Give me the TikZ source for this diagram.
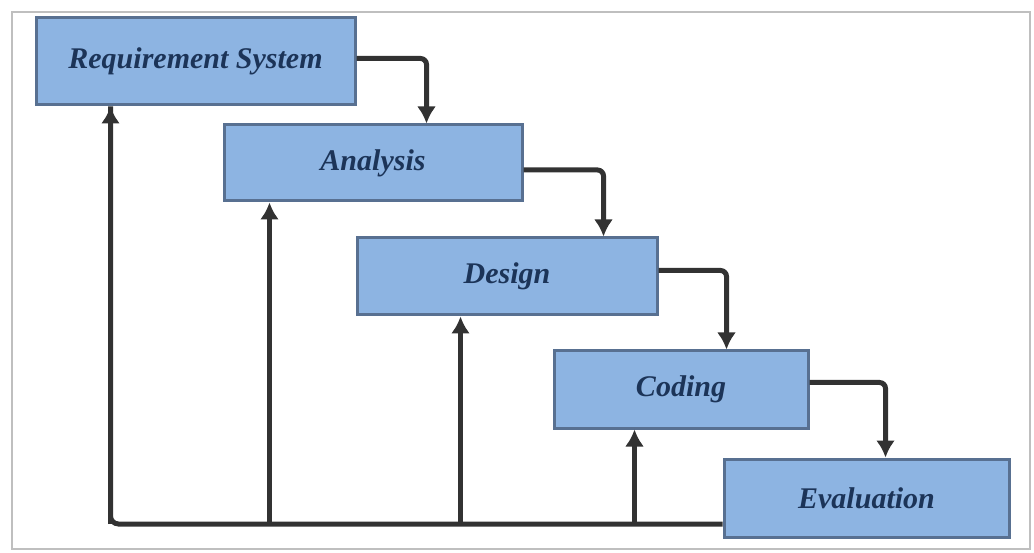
\documentclass[tikz,border=0pt]{standalone}
\usepackage{fontspec}
\setmainfont{Liberation Serif}
\usetikzlibrary{arrows.meta}
\definecolor{boxfill}{RGB}{141,180,226}
\definecolor{boxline}{RGB}{88,112,145}
\definecolor{txt}{RGB}{28,52,88}
\definecolor{conn}{RGB}{50,50,50}
\tikzset{
  box/.style={draw=boxline, line width=3pt, fill=boxfill, inner sep=0pt,
    font=\fontsize{30}{32}\selectfont\bfseries\itshape, text=txt},
  link/.style={draw=conn, line width=5pt, rounded corners=6pt,
    -{Latex[length=17pt,width=19pt]}},
  back/.style={draw=conn, line width=5pt, rounded corners=8pt},
}
\begin{document}
\begin{tikzpicture}[x=1pt,y=-1pt]
\useasboundingbox (0,0) rectangle (1034,553);
\draw[draw=black!25, line width=2pt] (12,12) rectangle (1030,549);
\node[box, minimum width=319pt, minimum height=87pt] (rs) at (195.5,61.5) {Requirement System};
\node[box, minimum width=298pt, minimum height=76pt] (an) at (373,163) {Analysis};
\node[box, minimum width=300pt, minimum height=77pt] (de) at (507,276.5) {Design};
\node[box, minimum width=254pt, minimum height=77pt] (co) at (681,389.5) {Coding};
\node[box, minimum width=285pt, minimum height=78pt] (ev) at (866.5,498) {Evaluation};
% forward connectors
\draw[link] ([yshift=3pt]rs.east) -| ([xshift=204pt]an.north west);
\draw[link] ([yshift=-7pt]an.east) -| ([xshift=248pt]de.north west);
\draw[link] ([yshift=6pt]de.east) -| ([xshift=174pt]co.north west);
\draw[link] ([yshift=7pt]co.east) -| ([xshift=163pt]ev.north west);
% feedback
\coordinate (bot) at (0,524);
\draw[back] (ev.west |- bot) -| ([xshift=76pt]rs.south west);
\draw[link, rounded corners=0pt] ([xshift=76pt]rs.south west |- bot) -- ([xshift=76pt]rs.south west);
\draw[link, rounded corners=0pt] ([xshift=47pt]an.south west |- bot) -- ([xshift=47pt]an.south west);
\draw[link, rounded corners=0pt] ([xshift=105pt]de.south west |- bot) -- ([xshift=105pt]de.south west);
\draw[link, rounded corners=0pt] ([xshift=82pt]co.south west |- bot) -- ([xshift=82pt]co.south west);
\end{tikzpicture}
\end{document}
